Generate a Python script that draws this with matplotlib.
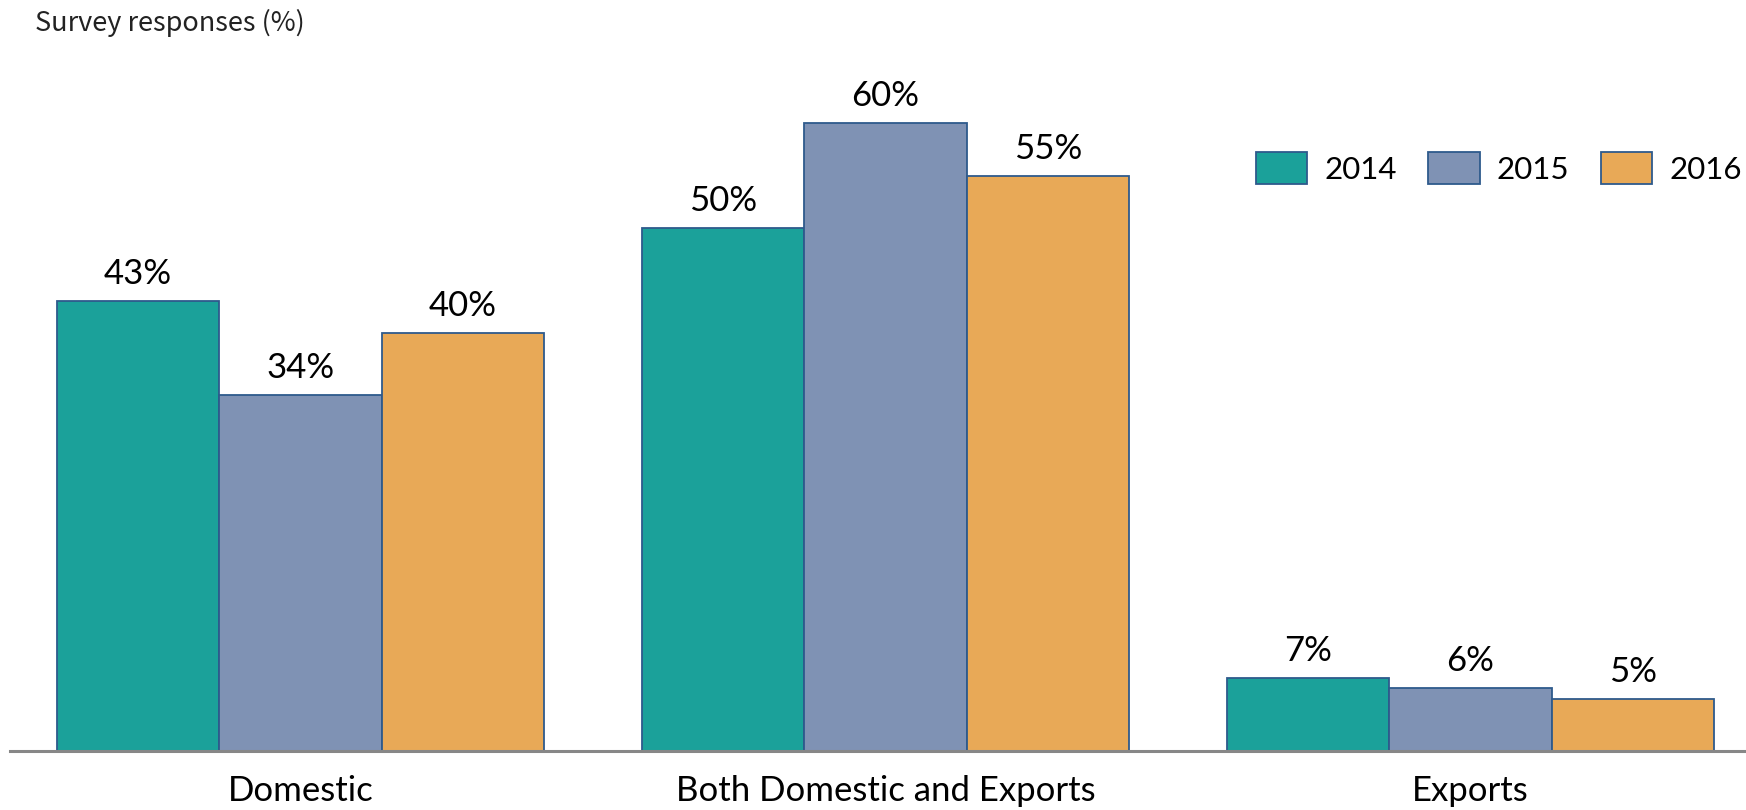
import matplotlib.pyplot as plt
import numpy as np

categories = ['Domestic', 'Both Domestic and Exports', 'Exports']
years = ['2014', '2015', '2016']
values_2014 = [43, 50, 7]
values_2015 = [34, 60, 6]
values_2016 = [40, 55, 5]

colors = ['#1ba19a', '#7f92b4', '#e8a957']
edge = '#2e5a8c'

plt.rcParams['font.family'] = ['Lato', 'DejaVu Sans']

fig = plt.figure(figsize=(17.46, 8.10), dpi=100)
ax = fig.add_axes([10 / 1746, 1 - 751 / 810, 1 - 10 / 1746, 751 / 810])

x = np.arange(len(categories))
w = 0.2775
series = [values_2014, values_2015, values_2016]
for i, (vals, yr) in enumerate(zip(series, years)):
    bars = ax.bar(x + (i - 1) * w, vals, w, color=colors[i], edgecolor=edge,
                  linewidth=1.3, label=yr, zorder=2)
    for b, v in zip(bars, vals):
        ax.annotate(f'{v}%', (b.get_x() + b.get_width() / 2, v),
                    xytext=(0, 8), textcoords='offset points',
                    ha='center', va='bottom', fontsize=25)

ax.set_xlim(-0.4966, 2.471)
ax.set_ylim(0, 71.8)
ax.set_xticks(x)
ax.set_xticklabels(categories, fontsize=25)
ax.tick_params(axis='x', length=0, pad=17)
ax.set_yticks([])
for s in ['top', 'right', 'left']:
    ax.spines[s].set_visible(False)
ax.spines['bottom'].set_color('#878787')
ax.spines['bottom'].set_linewidth(2.2)
ax.spines['bottom'].set_zorder(3)

ax.legend(ncol=3, frameon=False, fontsize=22.5, loc='upper right',
          bbox_to_anchor=(1742 / 1746, 1 - 152 / 810),
          bbox_transform=fig.transFigure,
          handlelength=1.65, handleheight=1.2, handletextpad=0.55,
          columnspacing=1.0, borderaxespad=0, borderpad=0)

fig.text(35 / 1746, 1 - 9 / 810, 'Survey responses (%)', fontsize=19.5,
         family=['Noto Sans CJK SC', 'DejaVu Sans'], va='top', ha='left',
         color='#222222')

fig.savefig('out.png', dpi=100)
